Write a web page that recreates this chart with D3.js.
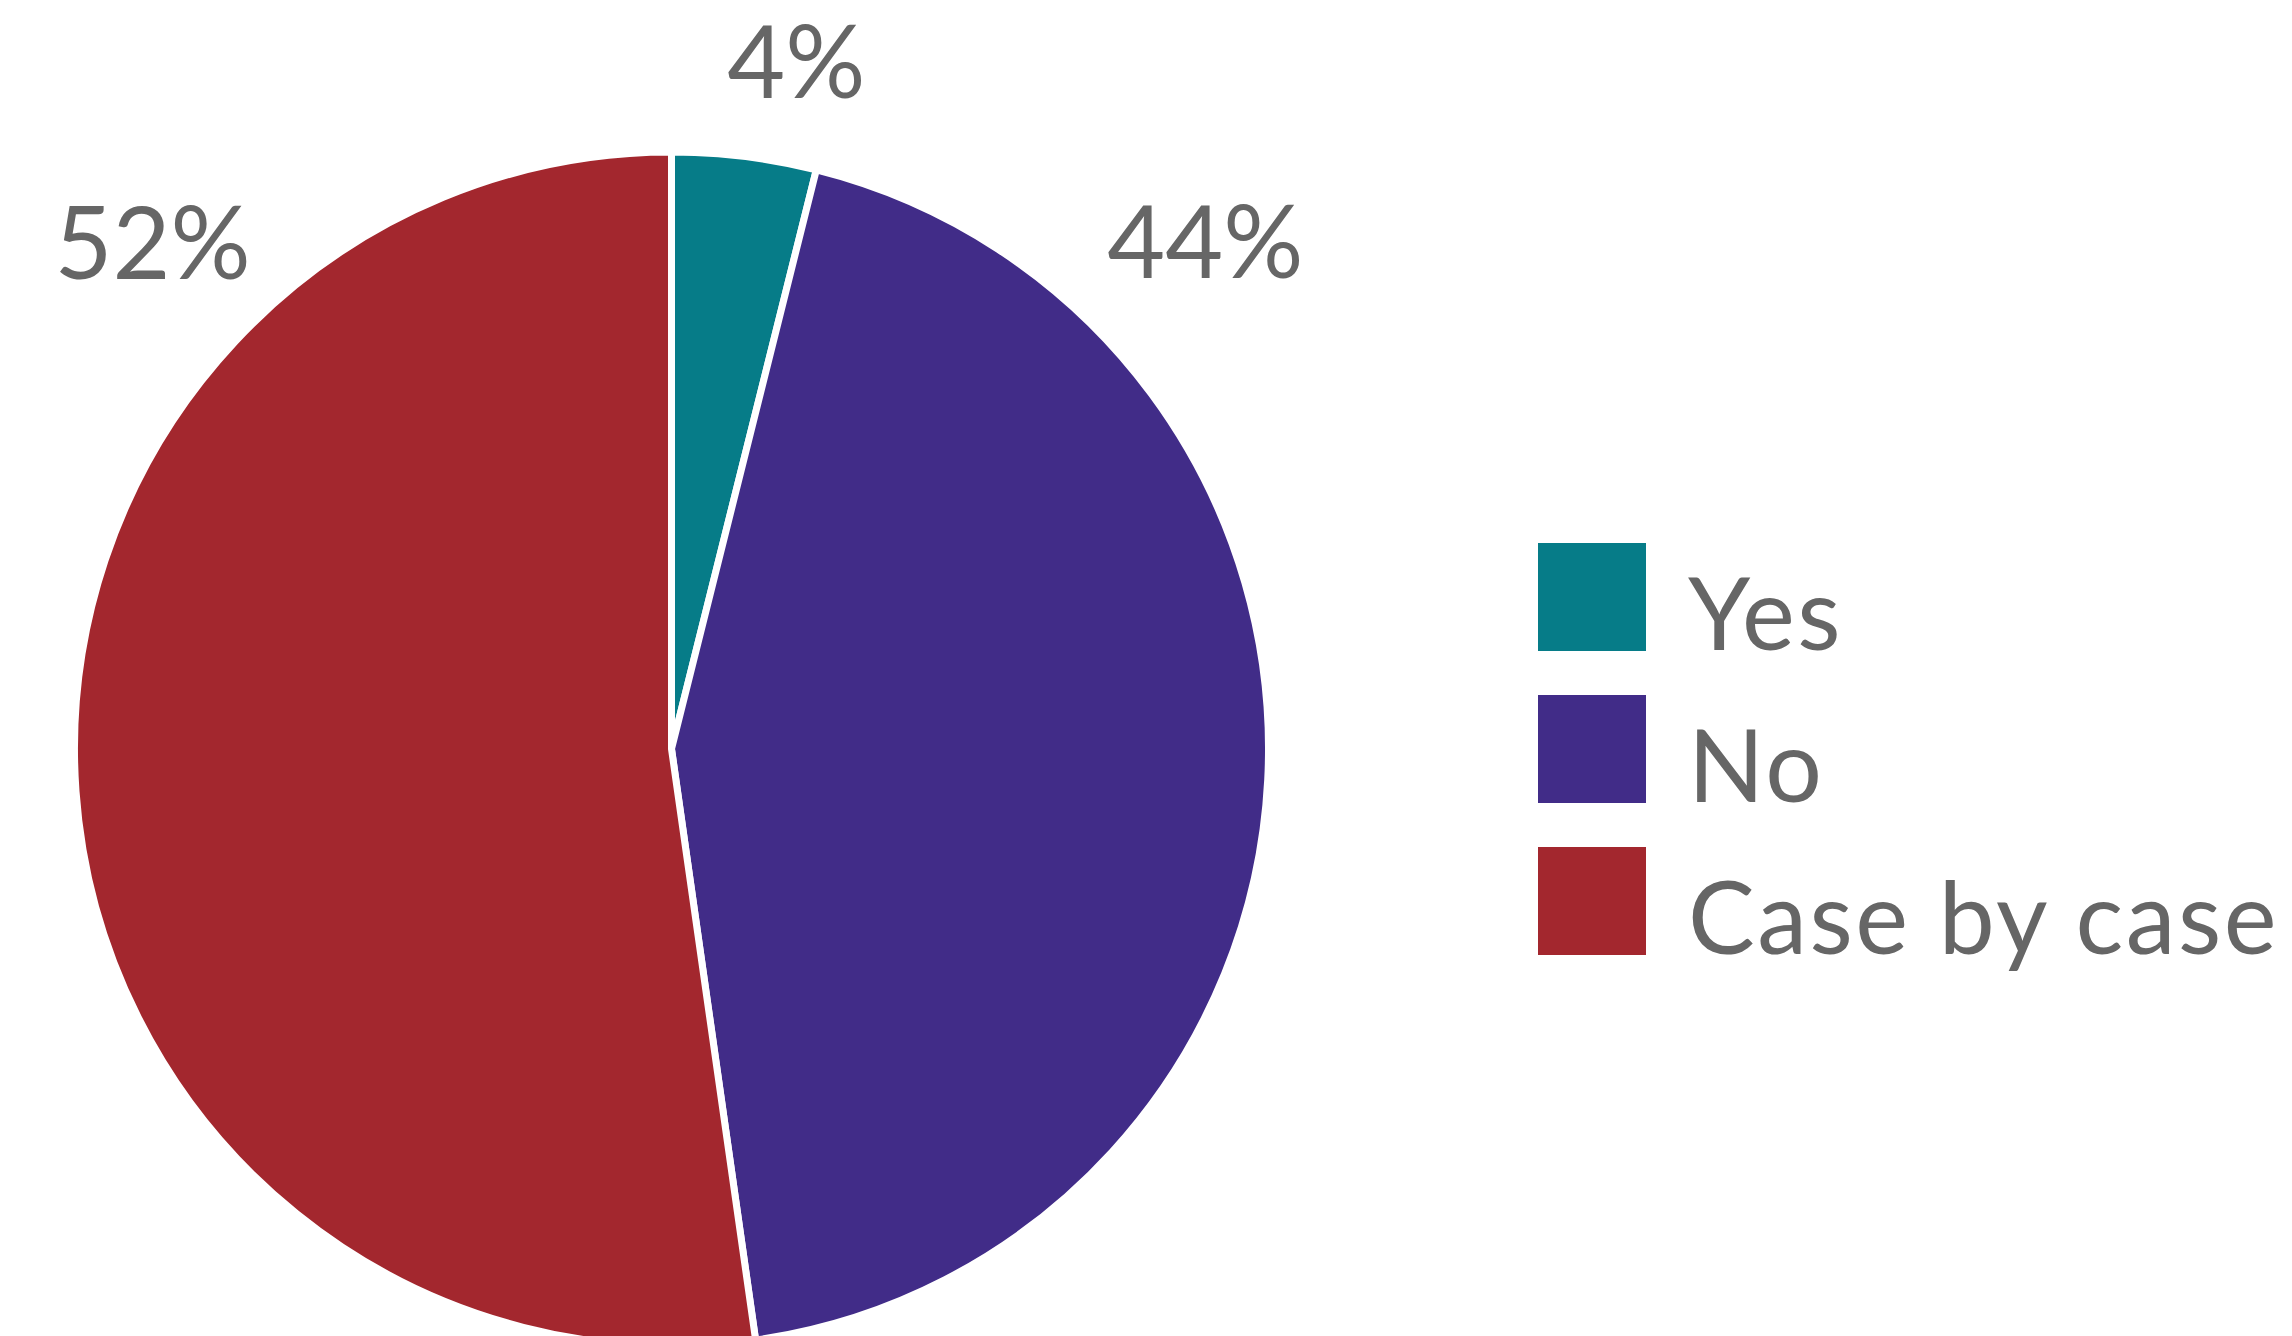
<!DOCTYPE html>
<html>
<head>
<meta charset="utf-8">
<script src="https://cdn.jsdelivr.net/npm/d3@7/dist/d3.min.js"></script>
<style>
  html, body { margin: 0; padding: 0; background: #fff; }
  svg { display: block; }
  text { font-family: Lato, "Open Sans", sans-serif; fill: #666666; }
</style>
</head>
<body>
<svg id="chart" width="2292" height="1336"></svg>
<script>
// ── DATA ─────────────────────────────────────────────────────────────────────
const categories = ['Yes', 'No', 'Case by case'];
const shares = [3.9, 43.85, 52.25];
const colors = ['#067c88', '#412c88', '#a3272e'];

// ── LAYOUT ───────────────────────────────────────────────────────────────────
const cx = 671.5, cy = 749, R = 597;
// label placement: angle (deg, clockwise from top) and distance from centre
const labelPos = [[10.3, 698], [46.5, 736], [-45.7, 725]];

const svg = d3.select('#chart');
const g = svg.append('g').attr('transform', `translate(${cx},${cy})`);

const data = categories.map((c, i) => ({ name: c, value: shares[i], color: colors[i] }));

const pie = d3.pie().value(d => d.value).sort(null);
const arc = d3.arc().innerRadius(0).outerRadius(R);

g.selectAll('path.slice')
  .data(pie(data))
  .join('path')
  .attr('class', 'slice')
  .attr('d', arc)
  .attr('fill', d => d.data.color)
  .attr('stroke', '#fff')
  .attr('stroke-width', 7)
  .attr('stroke-linejoin', 'miter');

// percentage labels
g.selectAll('text.pct')
  .data(data)
  .join('text')
  .attr('class', 'pct')
  .attr('x', (d, i) => Math.sin(labelPos[i][0] * Math.PI / 180) * labelPos[i][1])
  .attr('y', (d, i) => -Math.cos(labelPos[i][0] * Math.PI / 180) * labelPos[i][1])
  .attr('dy', '0.36em')
  .attr('text-anchor', 'middle')
  .attr('font-size', 100)
  .text(d => Math.round(d.value) + '%');

// ── LEGEND ───────────────────────────────────────────────────────────────────
const legY = d3.scaleBand().domain(categories).range([543, 543 + 3 * 152]).paddingInner(0);
const leg = svg.append('g').attr('class', 'legend')
  .selectAll('g')
  .data(data)
  .join('g')
  .attr('transform', d => `translate(1538,${legY(d.name)})`);

leg.append('rect')
  .attr('width', 108).attr('height', 108)
  .attr('fill', d => d.color);

leg.append('text')
  .attr('x', 150)
  .attr('y', 107)
  .attr('font-size', 100)
  .attr('letter-spacing', 2.5)
  .text(d => d.name);
</script>
</body>
</html>
